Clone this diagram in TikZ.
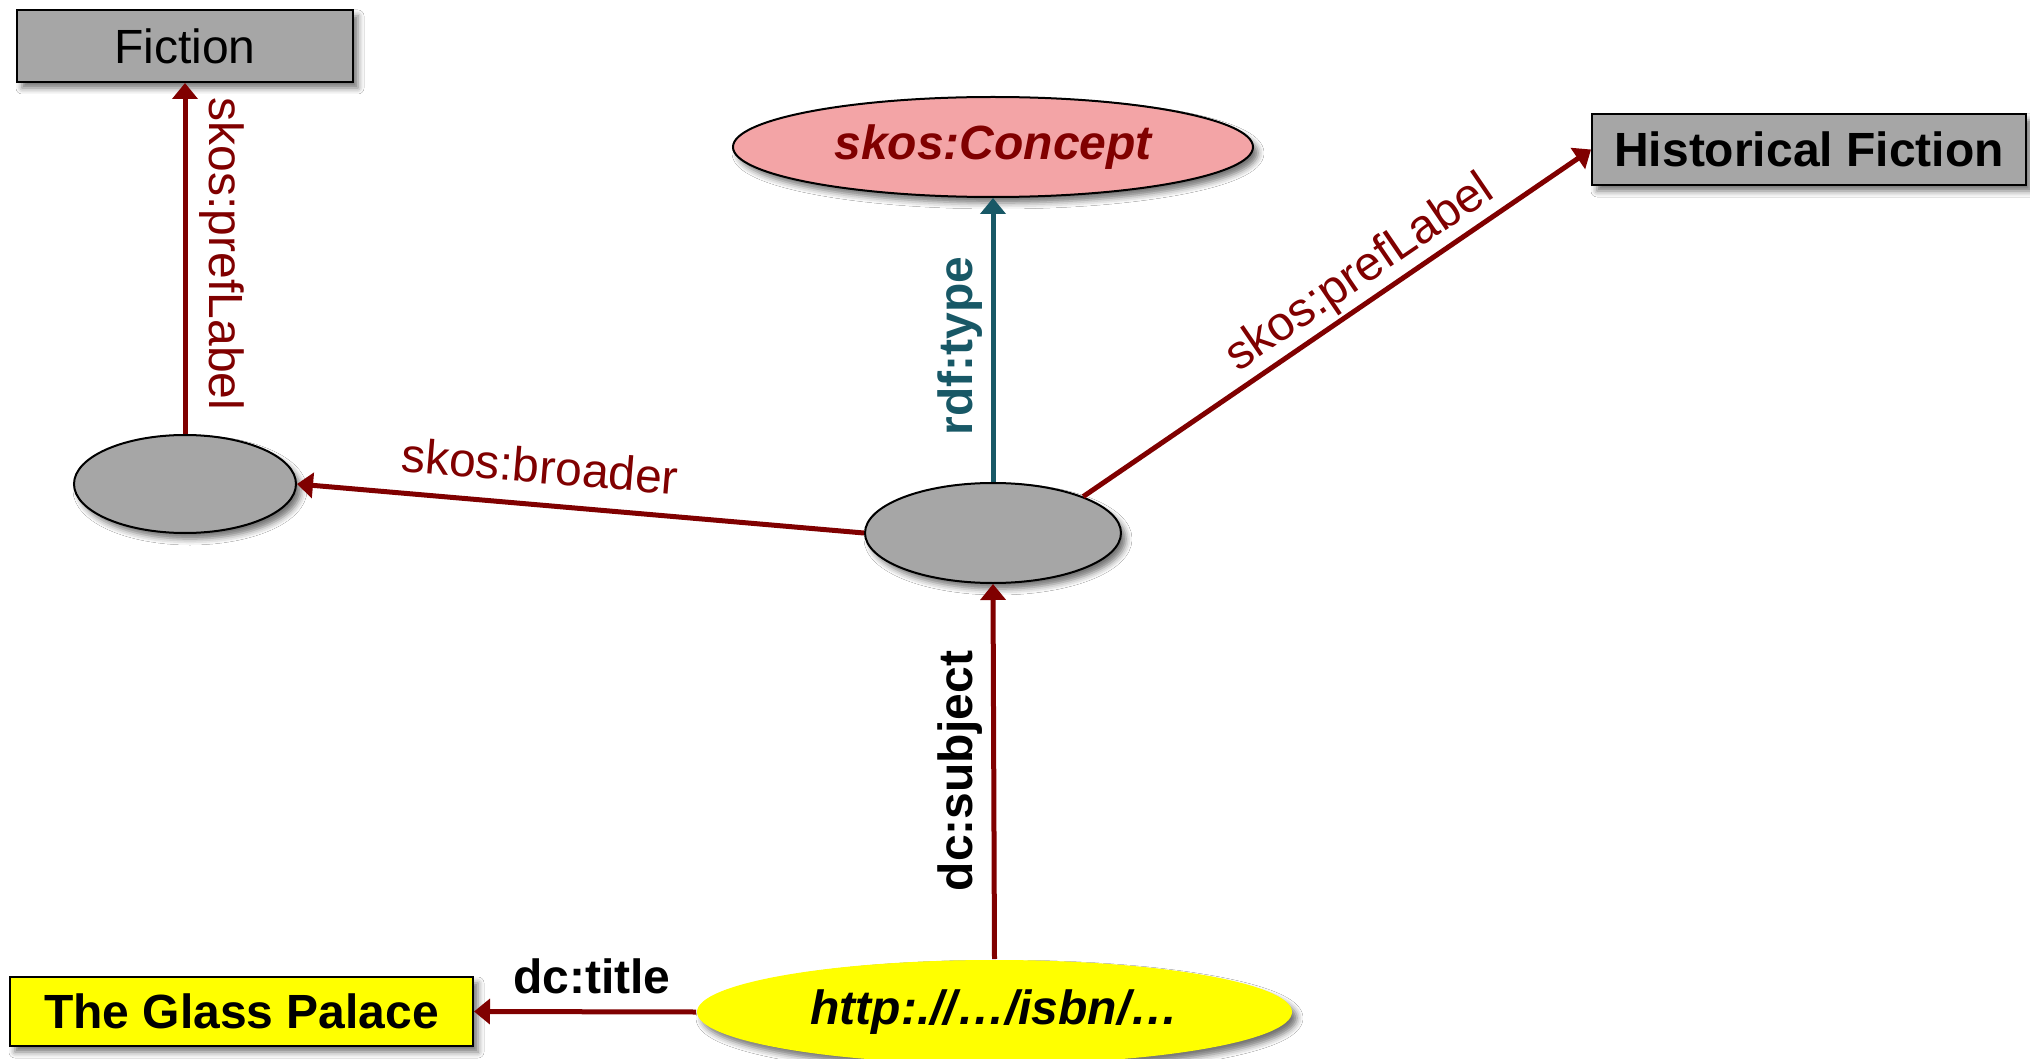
\documentclass[tikz,border=0pt]{standalone}
\usepackage{fontspec}
\setmainfont{Liberation Sans}
\usetikzlibrary{shapes.geometric,arrows.meta,shadows.blur}

\definecolor{boxgray}{RGB}{166,166,166}
\definecolor{conceptpink}{RGB}{243,164,166}
\definecolor{linkred}{RGB}{128,0,0}
\definecolor{typeteal}{RGB}{24,88,102}
\definecolor{uriyellow}{RGB}{255,255,0}

\tikzset{
  shad/.style={blur shadow={shadow xshift=5pt,shadow yshift=-6pt,shadow blur radius=6pt,shadow opacity=55}},
  big/.style={font={\fontsize{48}{58}\selectfont}},
  literal/.style={rectangle, draw=black, line width=2pt, fill=boxgray, inner sep=0pt, shad, big},
  resource/.style={ellipse, draw=black, line width=2pt, fill=boxgray, inner sep=0pt, shad},
  rel/.style={draw=linkred, line width=5pt, -{Triangle[length=16pt,width=25pt]}},
  lbl/.style={big, inner sep=0pt, text=linkred},
}

\begin{document}
\begin{tikzpicture}[x=1pt,y=-1pt]
  \fill[white] (0,0) rectangle (2030,1059);
  \useasboundingbox (0,0) rectangle (2030,1059);

  % literals and resources
  \node[literal, minimum width=336pt, minimum height=72pt] (fiction) at (185,46) {Fiction};
  \node[literal, minimum width=434pt, minimum height=71pt, font={\fontsize{48}{58}\selectfont\bfseries}] (hist) at (1809,149.5) {Historical Fiction};
  \node[literal, fill=uriyellow, minimum width=463pt, minimum height=69pt, font={\fontsize{48}{58}\selectfont\bfseries}] (glass) at (241.5,1011.5) {The Glass Palace};

  \node[resource, fill=conceptpink, minimum width=520pt, minimum height=100pt, text=linkred, font={\fontsize{48}{58}\selectfont\bfseries\itshape}] (concept) at (993,147) {skos:Concept};
  \node[resource, minimum width=222pt, minimum height=98pt] (bl) at (185,484) {};
  \node[resource, minimum width=256pt, minimum height=100pt] (bc) at (993,533) {};
  \node[resource, draw=none, fill=uriyellow, minimum width=595pt, minimum height=104pt, font={\fontsize{48}{58}\selectfont\bfseries\itshape}] (isbn) at (994.5,1012) {http:.//…/isbn/…};

  % properties
  \draw[rel] (bl.north) -- (fiction.south);
  \draw[rel] (bc.west) -- (bl.east);
  \draw[rel] (bc.22) -- (hist.west);
  \draw[rel, draw=typeteal] (bc.north) -- (concept.south);
  \draw[rel] (isbn.north) -- (bc.south);
  \draw[rel] (isbn.west) -- (glass.east);

  % property labels
  \node[lbl, rotate=-90] (l-fic) at (222,254) {skos:prefLabel};
  \node[lbl, rotate=-4.8] (l-broad) at (540,466) {skos:broader};
  \node[lbl, rotate=34.3] (l-hist) at (1360,274) {skos:prefLabel};
  \node[lbl, rotate=90, text=typeteal, font={\fontsize{48}{58}\selectfont\bfseries}] (l-type) at (960,346) {rdf:type};
  \node[lbl, rotate=90, text=black, font={\fontsize{48}{58}\selectfont\bfseries}] (l-subj) at (960,771) {dc:subject};
  \node[lbl, text=black, font={\fontsize{48}{58}\selectfont\bfseries}] (l-title) at (592,976) {dc:title};
\end{tikzpicture}
\end{document}
